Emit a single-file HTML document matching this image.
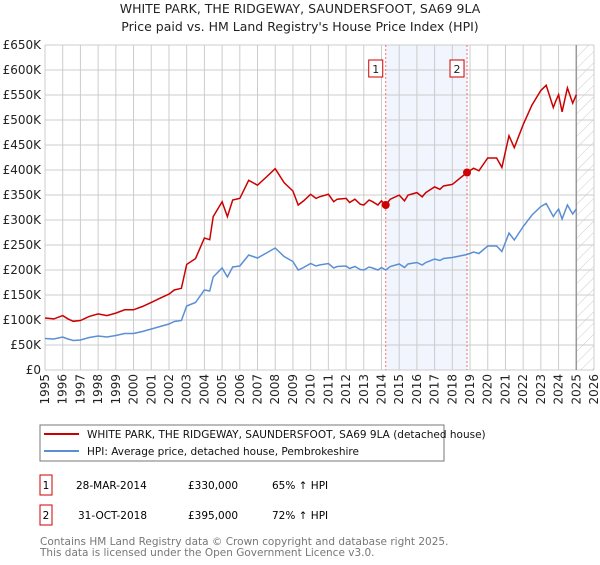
<!DOCTYPE html>
<html><head><meta charset="utf-8"><style>
body{margin:0;background:#fff;font-family:"Liberation Sans","DejaVu Sans",sans-serif;}
svg text{font-family:"DejaVu Sans","Liberation Sans",sans-serif;}
</style></head><body>
<svg id="c" width="600" height="560" xmlns="http://www.w3.org/2000/svg">
<defs><pattern id="hatch" width="8" height="8" patternUnits="userSpaceOnUse" patternTransform="rotate(45)"><line x1="0" y1="0" x2="0" y2="8" stroke="#ccc" stroke-width="1"/></pattern></defs>
<text x="300" y="13" text-anchor="middle" font-size="12.5" fill="#222">WHITE PARK, THE RIDGEWAY, SAUNDERSFOOT, SA69 9LA</text>
<text x="300" y="31" text-anchor="middle" font-size="12.5" fill="#222">Price paid vs. HM Land Registry's House Price Index (HPI)</text>
<g id="plot"></g>
<rect x="40" y="425" width="404" height="36" fill="#fff" stroke="#777"/>
<line x1="44" y1="434" x2="79" y2="434" stroke="#cc0000" stroke-width="2"/>
<text x="87" y="438" font-size="10.5" fill="#111">WHITE PARK, THE RIDGEWAY, SAUNDERSFOOT, SA69 9LA (detached house)</text>
<line x1="44" y1="451" x2="79" y2="451" stroke="#5b8fd4" stroke-width="2"/>
<text x="87" y="455" font-size="10.5" fill="#111">HPI: Average price, detached house, Pembrokeshire</text>
<g>
<rect x="40" y="475" width="12" height="20" fill="#fff" stroke="#cc0000"/>
<text x="46" y="489" text-anchor="middle" font-size="10.5">1</text>
<text x="76" y="489" font-size="10.5">28-MAR-2014</text>
<text x="188" y="489" font-size="10.5">£330,000</text>
<text x="272" y="489" font-size="10.5">65% ↑ HPI</text></g>
<g>
<rect x="40" y="505" width="12" height="20" fill="#fff" stroke="#cc0000"/>
<text x="46" y="519" text-anchor="middle" font-size="10.5">2</text>
<text x="78" y="519" font-size="10.5">31-OCT-2018</text>
<text x="188" y="519" font-size="10.5">£395,000</text>
<text x="272" y="519" font-size="10.5">72% ↑ HPI</text></g>
<text x="40" y="545" font-size="10.5" fill="#777">Contains HM Land Registry data © Crown copyright and database right 2025.</text>
<text x="40" y="556" font-size="10.5" fill="#777">This data is licensed under the Open Government Licence v3.0.</text>
</svg>
<script>
const years=[1995,1995.5,1996,1996.3,1996.6,1997,1997.5,1998,1998.5,1999,1999.5,2000,2000.5,2001,2001.5,2002,2002.3,2002.7,2003,2003.5,2004,2004.3,2004.5,2005,2005.3,2005.6,2006,2006.5,2007,2007.5,2008,2008.5,2009,2009.3,2009.6,2010,2010.3,2010.5,2011,2011.3,2011.5,2012,2012.2,2012.5,2012.8,2013,2013.3,2013.5,2013.8,2014,2014.24,2014.5,2015,2015.3,2015.5,2016,2016.3,2016.5,2017,2017.3,2017.5,2018,2018.83,2019.2,2019.5,2020,2020.5,2020.8,2021.2,2021.5,2022,2022.5,2023,2023.3,2023.7,2023.85,2024,2024.2,2024.5,2024.8,2025];
const hpi=[63,62,66,62,59,60,65,68,66,69,73,73,77,82,87,92,97,99,128,135,160,158,186,204,186,206,208,230,224,234,244,227,217,200,205,213,208,210,213,204,207,208,203,207,201,200,206,204,200,205,200,207,212,205,212,215,210,215,222,219,223,225,231,236,233,248,248,237,274,260,287,310,327,333,307,315,322,302,330,312,322];
const saleYears=[2014.24,2018.83];
const salePrices=[330,395];
const yTicks=[0,50,100,150,200,250,300,350,400,450,500,550,600,650];
const xTicks=[1995,1996,1997,1998,1999,2000,2001,2002,2003,2004,2005,2006,2007,2008,2009,2010,2011,2012,2013,2014,2015,2016,2017,2018,2019,2020,2021,2022,2023,2024,2025,2026];
const X0=45,X1=594,Y0=370,Y1=45,XMIN=1995,XMAX=2026,YMAX=650;
function sx(v){return X0+(v-XMIN)/(XMAX-XMIN)*(X1-X0);}
function sy(v){return Y0-v/YMAX*(Y0-Y1);}
const NS='http://www.w3.org/2000/svg',g=document.getElementById('plot');
function mk(t,a,p){const e=document.createElementNS(NS,t);for(const k in a)e.setAttribute(k,a[k]);(p||g).appendChild(e);return e;}
function hpiAt(t){for(let i=0;i<years.length-1;i++){if(t>=years[i]&&t<=years[i+1]){const f=(t-years[i])/(years[i+1]-years[i]);return hpi[i]+f*(hpi[i+1]-hpi[i]);}}return hpi[hpi.length-1];}
let e=mk('rect',{x:sx(saleYears[0]),y:Y1,width:sx(saleYears[1])-sx(saleYears[0]),height:Y0-Y1,fill:'#eef2fc',opacity:0.8});


e=mk('rect',{x:sx(2025),y:Y1,width:X1-sx(2025),height:Y0-Y1,fill:'url(#hatch)'});


yTicks.forEach(v=>{const l=mk('line',{x1:X0,x2:X1,y1:sy(v),y2:sy(v),stroke:'#ccc','stroke-width':1});


const t=mk('text',{x:X0-4,y:sy(v)+4,'text-anchor':'end','font-size':12,fill:'#222'});t.textContent='£'+(v?v+'K':'0');

});
xTicks.forEach(v=>{const l=mk('line',{x1:sx(v),x2:sx(v),y1:Y1,y2:Y0,stroke:'#ccc','stroke-width':1});


const t=mk('text',{x:0,y:0,'text-anchor':'end','font-size':12,fill:'#222',transform:`translate(${sx(v)+4},${Y0+4}) rotate(-90)`});t.textContent=v;

});
e=mk('line',{x1:sx(2025),x2:sx(2025),y1:Y1,y2:Y0,stroke:'#999','stroke-width':1.5});


saleYears.forEach((s,i)=>{const l=mk('line',{x1:sx(s),x2:sx(s),y1:Y1,y2:Y0,stroke:'#f07070','stroke-dasharray':'2,2','stroke-width':1});


const r=mk('rect',{x:sx(s)-17,y:60,width:14,height:17,fill:'#fff',stroke:'#cc0000'});


const t=mk('text',{x:sx(s)-10,y:73,'text-anchor':'middle','font-size':11,fill:'#222'});t.textContent=i+1;

});
const hp=years.map((y,i)=>sx(y).toFixed(1)+','+sy(hpi[i]).toFixed(1)).join(' ');
e=mk('polyline',{points:hp,fill:'none',stroke:'#5b8fd4','stroke-width':1.5});


const ratio1=salePrices[0]/hpiAt(saleYears[0]),ratio2=salePrices[1]/hpiAt(saleYears[1]);
const rp=years.map((y,i)=>{const r=y<saleYears[1]?ratio1:ratio2;return sx(y).toFixed(1)+','+sy(hpi[i]*r).toFixed(1);}).join(' ');
e=mk('polyline',{points:rp,fill:'none',stroke:'#cc0000','stroke-width':1.5});


saleYears.forEach((s,i)=>{const c=mk('circle',{cx:sx(s),cy:sy(salePrices[i]),r:4,fill:'#cc0000'});

});
</script>
</body></html>
